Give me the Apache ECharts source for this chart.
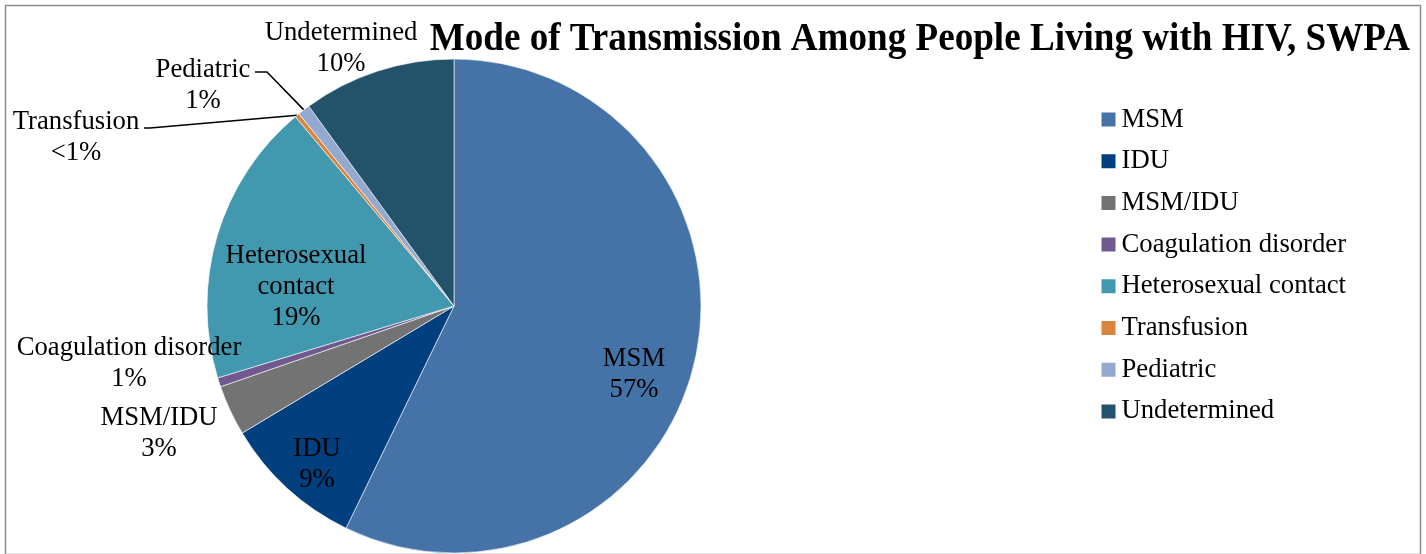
<!DOCTYPE html>
<html>
<head>
<meta charset="utf-8">
<script src="https://cdn.jsdelivr.net/npm/echarts@6/dist/echarts.min.js"></script>
<style>
  html, body { margin: 0; padding: 0; background: #fff; }
  #chart { width: 1426px; height: 554px; }
</style>
</head>
<body>
<div id="chart"></div>
<script>
// Transmission categories and their share of people living with HIV (%)
const categories = ['MSM', 'IDU', 'MSM/IDU', 'Coagulation disorder', 'Heterosexual contact', 'Transfusion', 'Pediatric', 'Undetermined'];
const shares = [57.2, 9.2, 3.3, 0.6, 18.6, 0.3, 0.8, 10.0];
const titleText = 'Mode of Transmission Among People Living with HIV, SWPA';

// Slice colours, in category order
const colors = ['#4572A7', '#023F7E', '#737373', '#71598F', '#4298AF', '#DB843D', '#93A9CF', '#22536B'];

// Label placement relative to the pie centre: [dx, dy], plus optional leader line bend/end
const center = [454, 306];
const radius = 247;
const labelPlacement = {
  'MSM': { at: [180, 68], inside: true },
  'IDU': { at: [-137, 158], inside: true },
  'MSM/IDU': { at: [-295, 127] },
  'Coagulation disorder': { at: [-325, 57] },
  'Heterosexual contact': { at: [-158, -19], inside: true, wrap: 'Heterosexual\ncontact' },
  'Transfusion': { at: [-378, -169], line: [[-304, -178], [-310, -178]] },
  'Pediatric': { at: [-251, -221], line: [[-187, -234], [-199, -234]] },
  'Undetermined': { at: [-113, -258] }
};

const fontFamily = '"Liberation Serif", "Times New Roman", serif';
const fontSize = 26.7;

const pieData = categories.map((name, i) => {
  const p = labelPlacement[name];
  return {
    name: name,
    value: shares[i],
    itemStyle: { color: colors[i] },
    label: { position: p.inside ? 'inside' : 'outside' },
    labelLine: { show: !!p.line }
  };
});

const chart = echarts.init(document.getElementById('chart'), null, { renderer: 'canvas' });

chart.setOption({
  animation: false,
  backgroundColor: '#fff',
  graphic: [
    {
      type: 'rect',
      left: 3, top: 3,
      shape: { width: 1415, height: 549 },
      style: { fill: 'none', stroke: '#8c8c8c', lineWidth: 1.5 },
      z: -1
    },
    {
      type: 'text',
      x: 1410, y: 39,
      scaleX: 0.905,
      originX: 0,
      originY: 0,
      style: {
        text: titleText,
        font: 'bold 41px ' + fontFamily,
        fill: '#000',
        align: 'right',
        verticalAlign: 'middle'
      },
      z: 10
    }
  ],
  legend: {
    orient: 'vertical',
    left: 1099.5,
    top: 106,
    padding: 0,
    icon: 'rect',
    itemWidth: 16,
    itemHeight: 16,
    itemGap: 14.7,
    data: categories,
    textStyle: {
      fontFamily: fontFamily,
      fontSize: fontSize,
      lineHeight: 26,
      color: '#000'
    }
  },
  series: [{
    type: 'pie',
    center: center,
    radius: radius,
    startAngle: 90,
    clockwise: true,
    avoidLabelOverlap: false,
    itemStyle: { borderColor: '#ffffff', borderWidth: 0.6 },
    label: {
      show: true,
      fontFamily: fontFamily,
      fontSize: fontSize,
      lineHeight: 31,
      color: '#000',
      formatter: function (p) {
        const pl = labelPlacement[p.name];
        const pct = p.value < 0.5 ? '<1%' : Math.round(p.value) + '%';
        return (pl.wrap || p.name) + '\n' + pct;
      }
    },
    labelLine: {
      lineStyle: { color: '#000', width: 1.5 },
      length: 10,
      length2: 10
    },
    labelLayout: function (params) {
      const name = categories[params.dataIndex];
      const pl = labelPlacement[name];
      const res = {
        x: center[0] + pl.at[0],
        y: center[1] + pl.at[1],
        align: 'center',
        verticalAlign: 'middle'
      };
      if (pl.line && params.labelLinePoints) {
        const start = params.labelLinePoints[0];
        res.labelLinePoints = [
          start,
          [center[0] + pl.line[0][0], center[1] + pl.line[0][1]],
          [center[0] + pl.line[1][0], center[1] + pl.line[1][1]]
        ];
      }
      return res;
    },
    data: pieData
  }]
});
</script>
</body>
</html>
